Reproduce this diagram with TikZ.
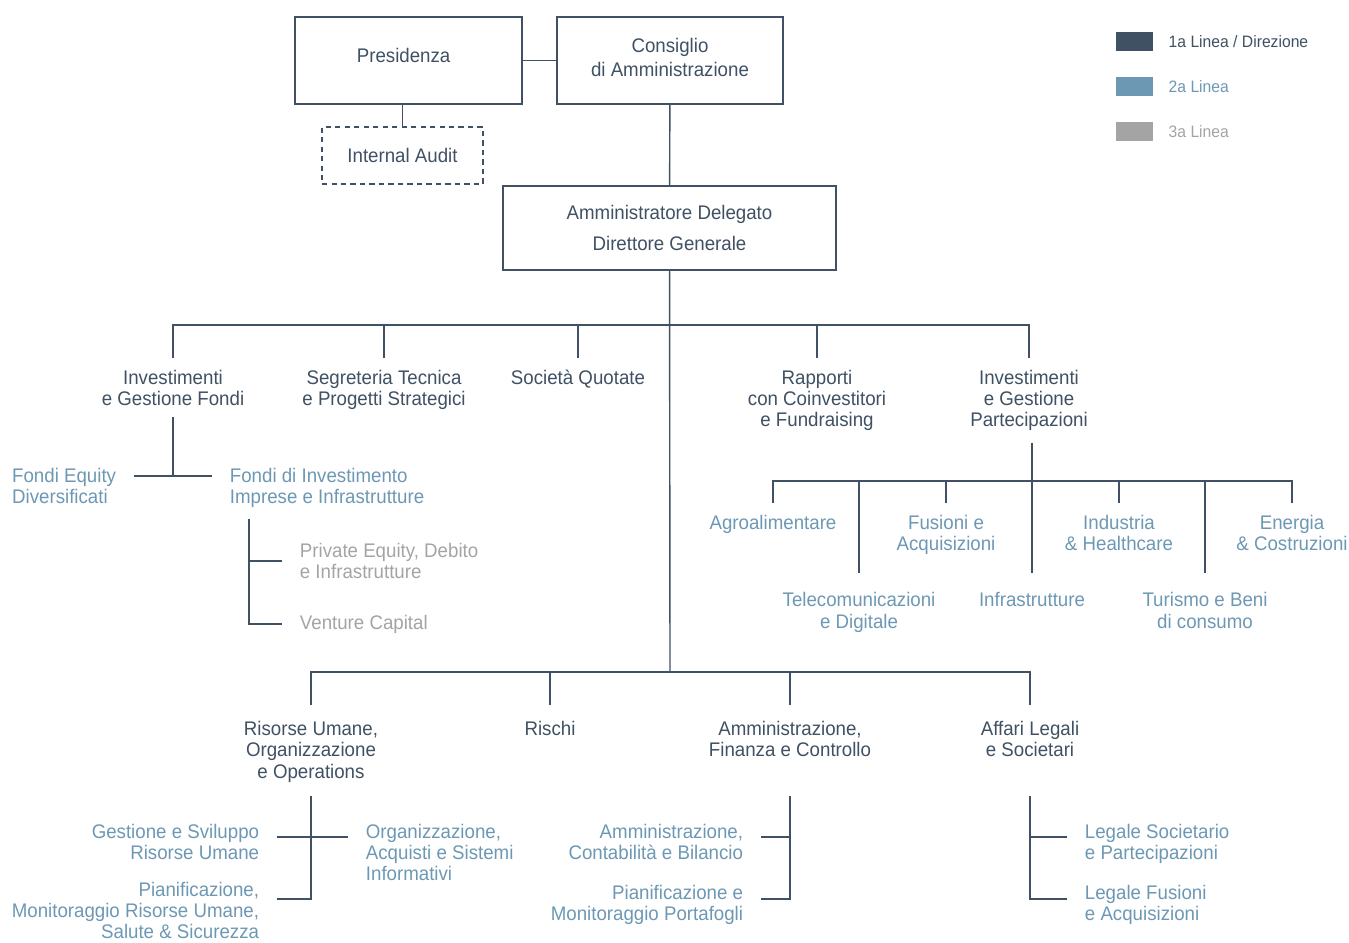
\documentclass[tikz,border=0pt]{standalone}
\usepackage{fontspec}
\newfontfamily\orgfont{Liberation Sans}[FakeStretch = 0.95]
\usetikzlibrary{positioning}
\definecolor{linea1}{HTML}{3F5163}
\definecolor{linea2}{HTML}{6D98B4}
\definecolor{linea3}{HTML}{A4A4A4}
\tikzset {
    org font/.style = {font = \orgfont\fontsize{11.2pt}{12.2pt}\selectfont},
    link/.style = {draw = linea1, line width = 0.8pt},
    unitbox/.style = {org font, draw = linea1, line width = 0.8pt, text = linea1, align = center, inner sep = 0pt},
    dashed box/.style = {dash pattern = on 3pt off 2.4pt, line width = 0.7pt},
    level one/.style = {org font, text = linea1, align = center, inner xsep = 10pt, inner ysep = 6.5pt},
    level two/.style = {level one, text = linea2},
    level three/.style = {level one, text = linea3},
    low/.style = {inner ysep = 10.8pt},
    lower row/.style = {inner ysep = 9pt},
    legend box/.style = {minimum width = 0.74cm, minimum height = 0.38cm, inner sep = 0pt},
    legend text/.style = {font = \orgfont\fontsize{9.4pt}{11pt}\selectfont, inner sep = 0pt}
}
\begin{document}
\begin{tikzpicture}[x = 0.02cm, y = -0.02cm]
    \useasboundingbox (0, 0) rectangle (1349, 943);
    % vertice
    \node (pres) [unitbox, minimum width = 4.54cm, minimum height = 1.74cm, text depth = 5.6pt] at (408.5, 60.5) {Presidenza\hspace*{5.6pt}};
    \node (cda) [unitbox, minimum width = 4.52cm, minimum height = 1.74cm, text depth = 3.4pt] at (670, 60.5) {Consiglio\\[1.5pt]di Amministrazione};
    \node (audit) [unitbox, dashed box, minimum width = 3.22cm, minimum height = 1.14cm] at (402.5, 155.5) {Internal Audit};
    \node (ad) [unitbox, minimum width = 6.66cm, minimum height = 1.68cm] at (669.5, 228) {Amministratore Delegato\\[5.4pt]Direttore Generale};
    \coordinate (tbar) at (670, 325);
    \coordinate (bbar) at (670, 672);
    \draw [link] (pres) -- (cda);
    \draw [link] (audit) -- (audit |- pres.south);
    \draw [link] (cda) -- (ad);
    \draw [link] (ad) -- (bbar);
    % prima fila
    \node (ifondi) [level one, anchor = north] at (173, 358) {Investimenti\\e Gestione Fondi};
    \node (segr) [level one, anchor = north] at (384, 358) {Segreteria Tecnica\\e Progetti Strategici};
    \node (socq) [level one, anchor = north] at (578, 358) {Società Quotate};
    \node (rapp) [level one, anchor = north] at (817, 358) {Rapporti\\con Coinvestitori\\e Fundraising};
    \node (ipart) [level one, anchor = north] at (1029, 358) {Investimenti\\e Gestione\\Partecipazioni};
    \draw [link] (ifondi) |- (tbar) -| (ipart);
    \draw [link] (segr) -- (segr |- tbar);
    \draw [link] (socq) -- (socq |- tbar);
    \draw [link] (rapp) -- (rapp |- tbar);
    % fondi
    \coordinate (fj) at (173, 476);
    \coordinate (fv) at (249, 624);
    \node (feq) [level two, anchor = north east, align = left] at (134, 456) {Fondi Equity\\Diversificati};
    \node (fdi) [level two, anchor = north west, align = left] at (212, 456) {Fondi di Investimento\\Imprese e Infrastrutture};
    \node (pe) [level three, anchor = west, align = left] at (282, 561) {Private Equity, Debito\\e Infrastrutture};
    \node (vc) [level three, anchor = west] at (282, 624) {Venture Capital};
    \draw [link] (ifondi) -- (fj);
    \draw [link] (feq.east |- fj) -- (fdi.west |- fj);
    \draw [link] (fdi.south -| fv) -- (fv) -- (vc);
    \draw [link] (pe) -- (pe -| fv);
    % partecipazioni
    \coordinate (sj) at (1032, 481);
    \node (agro) [level two, anchor = north] at (773, 503) {Agroalimentare};
    \node (fus) [level two, anchor = north] at (946, 503) {Fusioni e\\Acquisizioni};
    \node (ind) [level two, anchor = north] at (1119, 503) {Industria\\\& Healthcare};
    \node (ene) [level two, anchor = north] at (1292, 503) {Energia\\\& Costruzioni};
    \node (tele) [level two, low, anchor = north] at (859, 573) {Telecomunicazioni\\e Digitale};
    \node (infra) [level two, low, anchor = north] at (1032, 573) {Infrastrutture};
    \node (tur) [level two, low, anchor = north] at (1205, 573) {Turismo e Beni\\di consumo};
    \draw [link] (ipart.south -| sj) -- (infra);
    \draw [link] (agro) |- (sj) -| (ene);
    \draw [link] (fus) -- (fus |- sj);
    \draw [link] (ind) -- (ind |- sj);
    \draw [link] (tele) -- (tele |- sj);
    \draw [link] (tur) -- (tur |- sj);
    % seconda fila
    \node (hr) [level one, lower row, anchor = north] at (311, 705) {Risorse Umane,\\Organizzazione\\e Operations};
    \node (risk) [level one, lower row, anchor = north] at (550, 705) {Rischi};
    \node (afc) [level one, lower row, anchor = north] at (790, 705) {Amministrazione,\\Finanza e Controllo};
    \node (legal) [level one, lower row, anchor = north] at (1030, 705) {Affari Legali\\e Societari};
    \draw [link] (hr) |- (bbar) -| (legal);
    \draw [link] (risk) -- (risk |- bbar);
    \draw [link] (afc) -- (afc |- bbar);
    % risorse umane
    \coordinate (hrv) at (311, 796);
    \coordinate (hrt) at (311, 837);
    \coordinate (hrb) at (311, 899);
    \node (ghr) [level two, anchor = north east, align = right] at (277, 812) {Gestione e Sviluppo\\Risorse Umane};
    \node (hplan) [level two, anchor = north east, align = right] at (277, 870) {Pianificazione,\\Monitoraggio Risorse Umane,\\Salute \& Sicurezza};
    \node (oas) [level two, anchor = north west, align = left] at (348, 812) {Organizzazione,\\Acquisti e Sistemi\\Informativi};
    \draw [link] (hrv) -- (hrb) -- (hplan.east |- hrb);
    \draw [link] (ghr.east |- hrt) -- (oas.west |- hrt);
    % amministrazione
    \coordinate (afcv) at (790, 796);
    \coordinate (afct) at (790, 837);
    \coordinate (afcb) at (790, 899);
    \node (acb) [level two, anchor = north east, align = right] at (761, 812) {Amministrazione,\\Contabilità e Bilancio};
    \node (pmp) [level two, anchor = north east, align = right] at (761, 873) {Pianificazione e\\Monitoraggio Portafogli};
    \draw [link] (afcv) -- (afcb) -- (pmp.east |- afcb);
    \draw [link] (acb.east |- afct) -- (afct);
    % legale
    \coordinate (lgv) at (1030, 796);
    \coordinate (lgt) at (1030, 837);
    \coordinate (lgb) at (1030, 899);
    \node (lsp) [level two, anchor = north west, align = left] at (1067, 812) {Legale Societario\\e Partecipazioni};
    \node (lfa) [level two, anchor = north west, align = left] at (1067, 873) {Legale Fusioni\\e Acquisizioni};
    \draw [link] (lgv) -- (lgb) -- (lfa.west |- lgb);
    \draw [link] (lgt) -- (lsp.west |- lgt);
    % legenda
    \node (k1) [legend box, fill = linea1] at (1134.5, 41.5) {};
    \node (k2) [legend box, fill = linea2] at (1134.5, 86.5) {};
    \node (k3) [legend box, fill = linea3] at (1134.5, 131.5) {};
    \node (k1t) [legend text, text = linea1, right = 0.3cm of k1] {1a Linea / Direzione};
    \node (k2t) [legend text, text = linea2, right = 0.3cm of k2] {2a Linea};
    \node (k3t) [legend text, text = linea3, right = 0.3cm of k3] {3a Linea};
\end{tikzpicture}
\end{document}
